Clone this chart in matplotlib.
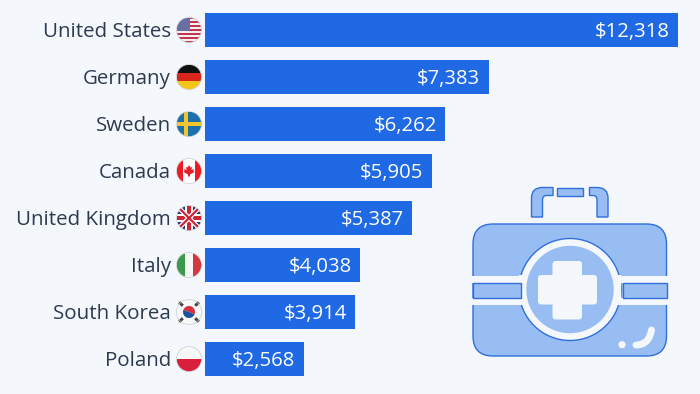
import matplotlib
matplotlib.use("Agg")
import numpy as np
import matplotlib.pyplot as plt
from matplotlib.patches import Circle, FancyBboxPatch, PathPatch, Rectangle, Polygon, Wedge
from matplotlib.path import Path

plt.rcParams["font.family"] = ["Open Sans", "DejaVu Sans"]

# ── data ─────────────────────────────────────────────────────────────────────
countries = ["United States", "Germany", "Sweden", "Canada",
             "United Kingdom", "Italy", "South Korea", "Poland"]
spending = [12318, 7383, 6262, 5905, 5387, 4038, 3914, 2568]

# ── colours ──────────────────────────────────────────────────────────────────
BG = "#f4f7fb"
BAR = "#1f69e4"
TEXT = "#2c3a50"
ICON_FILL = "#98bdf2"
ICON_LINE = "#2f6fdc"

W, H = 700, 394
BAR_LEFT, BAR_RIGHT = 205, 678
ROW0, ROW_STEP = 30, 47
FLAG_X, FLAG_R = 189, 12.5

fig = plt.figure(figsize=(W / 100, H / 100), dpi=100, facecolor=BG)

# --- bars --------------------------------------------------------------------
ax = fig.add_axes([BAR_LEFT / W, 0, (BAR_RIGHT - BAR_LEFT) / W, 1])
ax.set_facecolor("none")
rows = np.arange(len(countries))
ax.barh(rows, spending, height=34 / ROW_STEP, color=BAR)
ax.set_xlim(0, max(spending))
ax.set_ylim((H - ROW0) / ROW_STEP, -ROW0 / ROW_STEP)
ax.axis("off")

for i, (name, val) in enumerate(zip(countries, spending)):
    ax.annotate(f"${val:,}", (val, i), xytext=(-6, 0.3), textcoords="offset points",
                ha="right", va="center_baseline", color="white", fontsize=14.6)
    ax.annotate(name, (0, i), xytext=(-24.5, 0.7), textcoords="offset points",
                ha="right", va="center_baseline", color=TEXT, fontsize=14.75,
                annotation_clip=False)

# overlay in pixel coordinates for the flags and the icon
ov = fig.add_axes([0, 0, 1, 1])
ov.set_xlim(0, W)
ov.set_ylim(H, 0)
ov.axis("off")
ov.patch.set_alpha(0)


# --- flags -------------------------------------------------------------------
def bands(cy, clip, colors, horizontal=True):
    n = len(colors)
    d = 2 * FLAG_R / n
    for k, c in enumerate(colors):
        if horizontal:
            r = Rectangle((FLAG_X - FLAG_R, cy - FLAG_R + k * d), 2 * FLAG_R, d + 0.2, color=c, lw=0)
        else:
            r = Rectangle((FLAG_X - FLAG_R + k * d, cy - FLAG_R), d + 0.2, 2 * FLAG_R, color=c, lw=0)
        ov.add_patch(r)
        r.set_clip_path(clip)


def draw_flag(name, cy):
    x = FLAG_X
    r = FLAG_R
    clip = Circle((x, cy), r, transform=ov.transData)
    items = []
    if name == "United States":
        bands(cy, clip, ["#c4344e", "#f4f0f0"] * 6 + ["#c4344e"])
        items.append(Rectangle((x - r, cy - r), r * 1.1, r * 1.05, color="#6a6ea3", lw=0))
    elif name == "Germany":
        bands(cy, clip, ["#111111", "#d8261c", "#f5c518"])
    elif name == "Sweden":
        bands(cy, clip, ["#1f6fa8"])
        items.append(Rectangle((x - 5.5, cy - r), 4.5, 2 * r, color="#f3c52c", lw=0))
        items.append(Rectangle((x - r, cy - 2.2), 2 * r, 4.4, color="#f3c52c", lw=0))
    elif name == "Canada":
        bands(cy, clip, ["#ee1c25", "#ffffff", "#ffffff", "#ee1c25"], horizontal=False)
        leaf = [(0, -6), (1.5, -3.5), (3, -4), (2.5, -1), (5, -2), (4.5, 0), (5.5, 1),
                (1, 3.5), (1, 5.5), (-1, 5.5), (-1, 3.5), (-5.5, 1), (-4.5, 0), (-5, -2),
                (-2.5, -1), (-3, -4), (-1.5, -3.5)]
        items.append(Polygon([(x + a, cy + b) for a, b in leaf], color="#e3202a", lw=0))
    elif name == "United Kingdom":
        bands(cy, clip, ["#25356f"])
        for c, w in [("white", 3.4), ("#cf2336", 1.6)]:
            ln1, = ov.plot([x - r, x + r], [cy - r, cy + r], color=c, lw=w, solid_capstyle="butt")
            ln2, = ov.plot([x - r, x + r], [cy + r, cy - r], color=c, lw=w, solid_capstyle="butt")
            ln1.set_clip_path(clip)
            ln2.set_clip_path(clip)
        items.append(Rectangle((x - 3.6, cy - r), 7.2, 2 * r, color="white", lw=0))
        items.append(Rectangle((x - r, cy - 3.6), 2 * r, 7.2, color="white", lw=0))
        items.append(Rectangle((x - 2.2, cy - r), 4.4, 2 * r, color="#cf2336", lw=0))
        items.append(Rectangle((x - r, cy - 2.2), 2 * r, 4.4, color="#cf2336", lw=0))
    elif name == "Italy":
        bands(cy, clip, ["#3c9a4c", "#f6f6f6", "#d5373d"], horizontal=False)
    elif name == "South Korea":
        bands(cy, clip, ["#f8f8f8"])
        ov.add_patch(Wedge((x, cy), 6, 200, 20, color="#d5303e", lw=0))
        ov.add_patch(Wedge((x, cy), 6, 20, 200, color="#1d4f9c", lw=0))
        for sx, sy in [(-1, -1), (1, -1), (-1, 1), (1, 1)]:
            ang = 45 * sx * sy
            ov.add_patch(Rectangle((x + sx * 8 - 2.5, cy + sy * 8 - 1.5), 5, 3, angle=ang,
                                   rotation_point="center", color="#444444", lw=0))
    elif name == "Poland":
        bands(cy, clip, ["#f7f7f7", "#d8203c"])
    for p in items:
        ov.add_patch(p)
        p.set_clip_path(clip)
    ov.add_patch(Circle((x, cy), r, fill=False, ec="#c9ccd2", lw=0.5))


for i, name in enumerate(countries):
    draw_flag(name, ROW0 + i * ROW_STEP)

# --- first aid kit icon ------------------------------------------------------
LW = 1.0


def rbox(x0, y0, x1, y1, rad, **kw):
    p = FancyBboxPatch((x0 + rad, y0 + rad), x1 - x0 - 2 * rad, y1 - y0 - 2 * rad,
                       boxstyle=f"round,pad={rad},rounding_size={rad}", **kw)
    ov.add_patch(p)
    return p


# handle
def handle(xa, xb, xc, flip):
    # xa outer edge, xb inner edge, xc tip of the horizontal part
    s = Path([(xa, 217), (xa, 198), (xa, 187.5), (xa + flip * 11, 187.5), (xc, 187.5), (xc, 195.5),
              (xb + flip * 4, 195.5), (xb, 195.5), (xb, 200), (xb, 217), (xa, 217)],
             [Path.MOVETO, Path.LINETO, Path.CURVE3, Path.CURVE3, Path.LINETO, Path.LINETO,
              Path.LINETO, Path.CURVE3, Path.CURVE3, Path.LINETO, Path.CLOSEPOLY])
    ov.add_patch(PathPatch(s, fc=ICON_FILL, ec=ICON_LINE, lw=LW))


handle(531.5, 542.5, 553, 1)
handle(608, 597, 589.5, -1)
ov.add_patch(Rectangle((557, 187.5), 25.5, 8, fc=ICON_FILL, ec=ICON_LINE, lw=LW))

# body
rbox(473, 224, 666.5, 356, 20, fc=ICON_FILL, ec=ICON_LINE, lw=LW)

# ring around the cross
ov.add_patch(Circle((570, 289.5), 51, fc=BG, ec=ICON_LINE, lw=LW))

# gaps above and below the strap
ov.add_patch(Rectangle((470, 275.5), 199, 7, fc=BG, lw=0))
ov.add_patch(Rectangle((470, 297.5), 199, 7, fc=BG, lw=0))
ov.add_patch(Rectangle((519, 275), 102, 30, fc=BG, lw=0))

# strap pieces
ov.add_patch(Rectangle((473, 282.5), 48, 15, fc=ICON_FILL, ec=ICON_LINE, lw=LW))
ov.add_patch(Rectangle((622.5, 282.5), 44, 15, fc=ICON_FILL, ec=ICON_LINE, lw=LW))

# inner disc and cross
ov.add_patch(Circle((570, 289.5), 43.7, fc=ICON_FILL, lw=0))
rbox(538, 275, 597, 304.5, 3, fc=BG, lw=0)
rbox(552.5, 261, 582, 319.5, 3, fc=BG, lw=0)

# shine on the lower right corner
ov.add_patch(Circle((622, 344.7), 3.6, fc=BG, lw=0))
shine = Path([(636, 345), (649, 345), (651.5, 330)], [Path.MOVETO, Path.CURVE3, Path.CURVE3])
ov.add_patch(PathPatch(shine, fc="none", ec=BG, lw=5, capstyle="round"))

fig.savefig("out.png", dpi=100, facecolor=BG)
